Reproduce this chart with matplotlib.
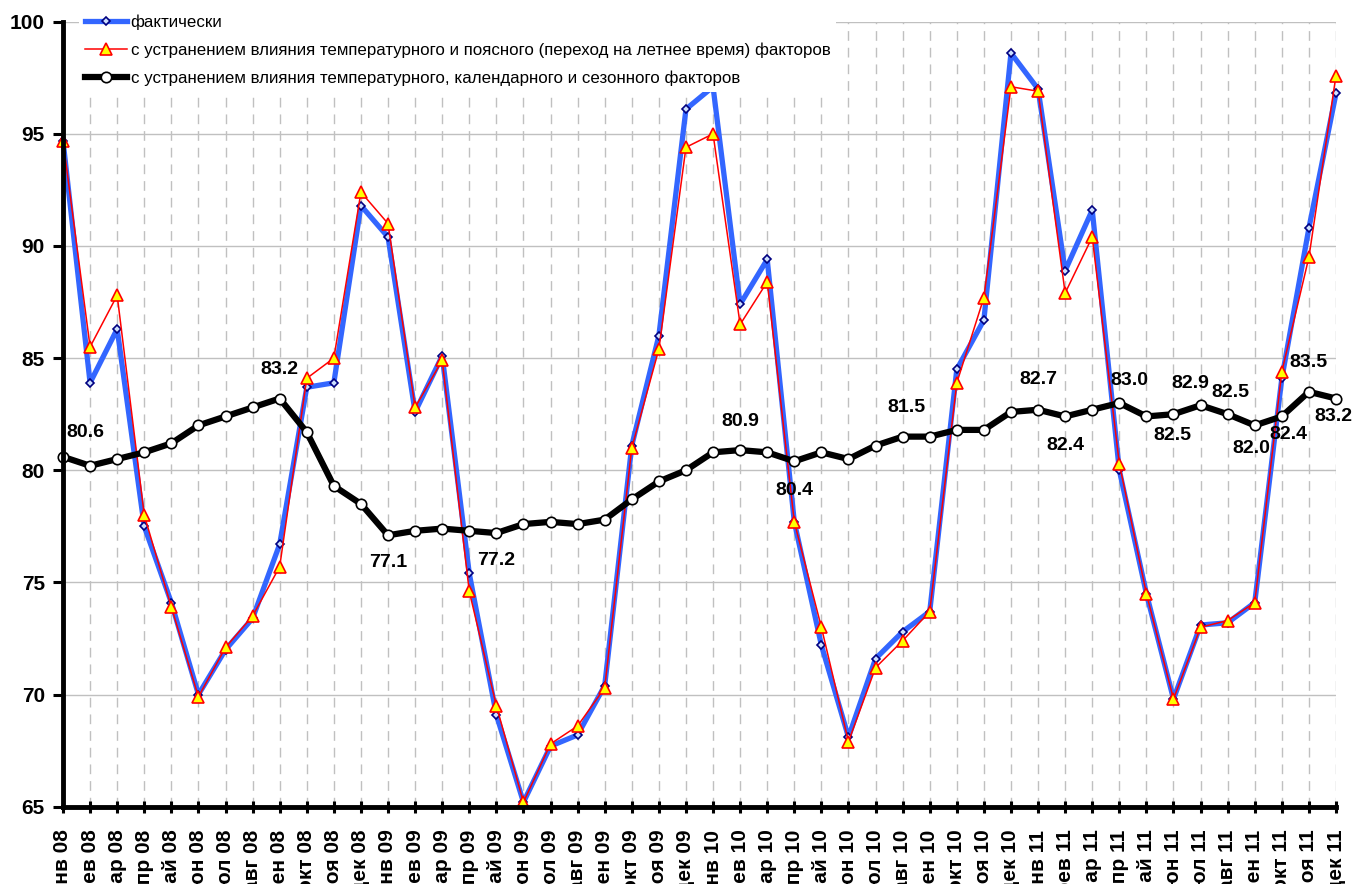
import matplotlib
matplotlib.use("Agg")
import matplotlib.pyplot as plt
from matplotlib import font_manager
import numpy as np

# months Jan 2008 .. Dec 2011
months = ['янв', 'фев', 'мар', 'апр', 'май', 'июн', 'июл', 'авг', 'сен', 'окт', 'ноя', 'дек']
years = ['08', '09', '10', '11']
tick_labels = [m + ' ' + y for y in years for m in months]

actual = [94.7, 83.9, 86.3, 77.5, 74.1, 70.0, 72.0, 73.4, 76.7, 83.7, 83.9, 91.8,
          90.4, 82.6, 85.1, 75.4, 69.1, 65.2, 67.7, 68.2, 70.4, 81.1, 86.0, 96.1,
          97.1, 87.4, 89.4, 77.7, 72.2, 68.1, 71.6, 72.8, 73.7, 84.5, 86.7, 98.6,
          97.0, 88.9, 91.6, 80.0, 74.5, 69.8, 73.1, 73.2, 74.1, 84.1, 90.8, 96.8]

temp_tz = [94.7, 85.5, 87.8, 78.0, 73.9, 69.9, 72.1, 73.5, 75.7, 84.1, 85.0, 92.4,
           91.0, 82.8, 84.9, 74.6, 69.5, 65.2, 67.8, 68.6, 70.3, 81.0, 85.4, 94.4,
           95.0, 86.5, 88.4, 77.7, 73.0, 67.9, 71.2, 72.4, 73.7, 83.9, 87.7, 97.1,
           96.9, 87.9, 90.4, 80.3, 74.5, 69.8, 73.0, 73.3, 74.1, 84.4, 89.5, 97.6]

seas_adj = [80.6, 80.2, 80.5, 80.8, 81.2, 82.0, 82.4, 82.8, 83.2, 81.7, 79.3, 78.5,
            77.1, 77.3, 77.4, 77.3, 77.2, 77.6, 77.7, 77.6, 77.8, 78.7, 79.5, 80.0,
            80.8, 80.9, 80.8, 80.4, 80.8, 80.5, 81.1, 81.5, 81.5, 81.8, 81.8, 82.6,
            82.7, 82.4, 82.7, 83.0, 82.4, 82.5, 82.9, 82.5, 82.0, 82.4, 83.5, 83.2]

series_names = ['фактически',
                'с устранением влияния температурного и поясного (переход на летнее время) факторов',
                'с устранением влияния температурного, календарного и сезонного факторов']

# which points of the black line get a value label, and label offset in pixels
label_offsets = {0: (22, 24), 8: (0, 29), 12: (0, -27), 16: (0, -27), 25: (0, 29),
                 27: (0, -29), 31: (4, 29), 36: (0, 30), 37: (0, -29), 39: (10, 22),
                 41: (-1, -21), 42: (-10, 22), 43: (3, 22), 44: (-3, -23), 45: (7, -18),
                 46: (0, 29), 47: (-3, -18)}

names = {f.name for f in font_manager.fontManager.ttflist}
base_font = 'Liberation Sans' if 'Liberation Sans' in names else 'DejaVu Sans'
plt.rcParams['font.family'] = [base_font, 'DejaVu Sans']

# narrow bold face for the value labels, if one is installed
narrow_bold = None
for f in font_manager.fontManager.ttflist:
    if 'Liberation Sans Narrow' in f.name and f.weight in (700, 'bold'):
        narrow_bold = font_manager.FontProperties(fname=f.fname, size=15)
        break
if narrow_bold is None:
    narrow_bold = font_manager.FontProperties(family=base_font, weight='bold', size=14)

x = np.arange(len(tick_labels))

fig = plt.figure(figsize=(13.53, 8.84), dpi=100)
ax = fig.add_axes([63 / 1353, 1 - 806.7 / 884, (1336 - 63) / 1353, (806.7 - 21.7) / 884])

ax.plot(x, actual, color='#3366FF', lw=3.8, marker='D', ms=4.5, mfc='#CCE0FF',
        mec='#000080', mew=1.2, clip_on=False, zorder=3, label=series_names[0])
ax.plot(x, temp_tz, color='#FF0000', lw=1.1, marker='^', ms=9, mfc='#FFFF00',
        mec='#FF0000', mew=1.2, clip_on=False, zorder=4, label=series_names[1])
ax.plot(x, seas_adj, color='black', lw=4.5, marker='o', ms=7.5, mfc='white',
        mec='black', mew=1.2, clip_on=False, zorder=5, label=series_names[2])

for i, (dx, dy) in label_offsets.items():
    ax.annotate(f'{seas_adj[i]:.1f}', (x[i], seas_adj[i]), xytext=(dx, dy),
                textcoords='offset pixels', ha='center', va='center',
                fontproperties=narrow_bold, zorder=6)

ax.set_xlim(0, len(x) - 1)
ax.set_ylim(65, 100)
ax.set_yticks(np.arange(65, 101, 5))
ax.set_xticks(x)
ax.set_xticklabels(tick_labels, rotation=90, fontsize=15, fontweight='bold')
for lab in ax.get_yticklabels():
    lab.set_fontsize(15)
    lab.set_fontweight('bold')

ax.tick_params(axis='x', direction='inout', length=9, width=2.2, pad=12)
ax.tick_params(axis='y', direction='out', length=7, width=2.2, pad=6)

ax.grid(axis='y', color='#C0C0C0', lw=1, ls='-')
ax.grid(axis='x', color='#C0C0C0', lw=1, ls=(0, (7, 5)))
ax.set_axisbelow(True)

for s in ['top', 'right']:
    ax.spines[s].set_visible(False)
for s in ['left', 'bottom']:
    ax.spines[s].set_linewidth(3.5)
    ax.spines[s].set_zorder(7)

leg = fig.legend(loc='upper left', bbox_to_anchor=(79 / 1353, 1 - 9 / 884),
                 frameon=True, fancybox=False, framealpha=1, facecolor='white',
                 edgecolor='none', handlelength=2.5, handletextpad=0.2,
                 labelspacing=0.72, borderpad=0.35, borderaxespad=0,
                 prop={'family': [base_font, 'DejaVu Sans'], 'size': 12.2})
leg.set_zorder(10)

fig.savefig('out.png', dpi=100)
